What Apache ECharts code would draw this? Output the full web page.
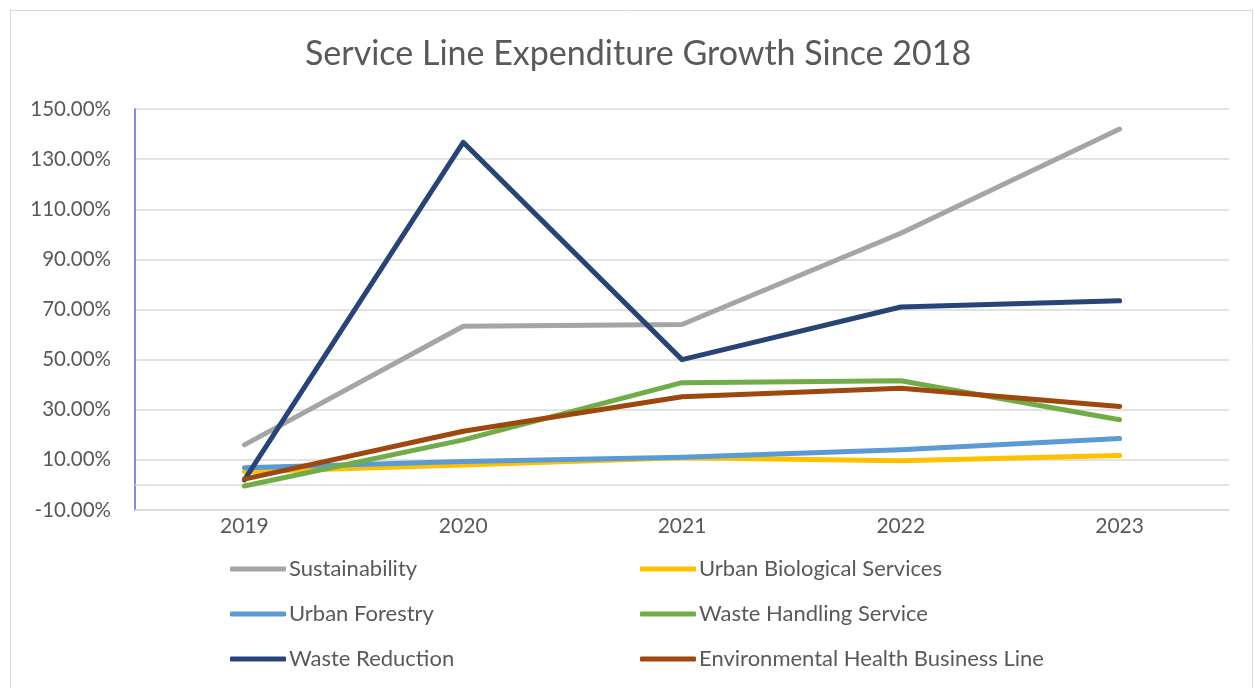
<!DOCTYPE html>
<html>
<head>
<meta charset="utf-8">
<script src="https://cdn.jsdelivr.net/npm/echarts@6/dist/echarts.min.js"></script>
<style>
html,body{margin:0;padding:0;background:#fff;}
#chart{width:1254px;height:688px;}
</style>
</head>
<body>
<div id="chart"></div>
<script>
const categories = ['2019', '2020', '2021', '2022', '2023'];
const sustainability = [16.0, 63.3, 64.0, 100.4, 142.0];
const urbanBiological = [5.3, 8.0, 10.8, 9.7, 11.7];
const urbanForestry = [6.9, 9.4, 11.0, 14.0, 18.5];
const wasteHandling = [-0.4, 18.0, 40.8, 41.6, 26.0];
const wasteReduction = [2.0, 136.7, 50.0, 71.0, 73.5];
const envHealth = [2.3, 21.4, 35.2, 38.6, 31.3];

const FONT = 'Lato';
const TXT = '#595959';

const seriesDefs = [
  {name: 'Sustainability', data: sustainability, color: '#A5A5A5'},
  {name: 'Urban Biological Services', data: urbanBiological, color: '#FFC000'},
  {name: 'Urban Forestry', data: urbanForestry, color: '#5B9BD5'},
  {name: 'Waste Handling Service', data: wasteHandling, color: '#70AD47'},
  {name: 'Waste Reduction', data: wasteReduction, color: '#264478'},
  {name: 'Environmental Health Business Line', data: envHealth, color: '#9E480E'}
];

const chart = echarts.init(document.getElementById('chart'), null, {renderer: 'canvas'});

const series = seriesDefs.map((s, i) => ({
  name: s.name,
  type: 'line',
  data: s.data,
  symbol: 'none',
  z: 3,
  lineStyle: {width: 5, color: s.color, cap: 'round', join: 'round'},
  itemStyle: {color: s.color},
  ...(i === 0 ? {
    markLine: {
      silent: true,
      symbol: 'none',
      label: {show: false},
      lineStyle: {color: '#D9D9D9', width: 1.5, type: 'solid'},
      data: [{yAxis: 0}],
      z: 1
    }
  } : {})
}));

const legendCommon = {
  orient: 'vertical',
  top: 558,
  padding: 0,
  itemWidth: 56,
  itemHeight: 5,
  itemGap: 23,
  icon: 'roundRect',
  textStyle: {fontFamily: FONT, fontSize: 22, color: TXT, lineHeight: 22, padding: [0, 0, 0, -2]},
  selectedMode: false
};

chart.setOption({
  backgroundColor: '#fff',
  animation: false,
  graphic: [{
    type: 'rect',
    shape: {x: 10.5, y: 10.5, width: 1242, height: 690},
    style: {fill: 'none', stroke: '#D9D9D9', lineWidth: 1},
    silent: true
  }],
  title: {
    text: 'Service Line Expenditure Growth Since 2018',
    left: 300,
    top: 32,
    textStyle: {fontFamily: FONT, fontSize: 34, fontWeight: 'normal', color: TXT}
  },
  legend: [
    Object.assign({}, legendCommon, {left: 230, data: ['Sustainability', 'Urban Forestry', 'Waste Reduction']}),
    Object.assign({}, legendCommon, {left: 640, data: ['Urban Biological Services', 'Waste Handling Service', 'Environmental Health Business Line']})
  ],
  grid: {left: 135, right: 25, top: 109, bottom: 178, containLabel: false},
  xAxis: {
    type: 'category',
    data: categories,
    boundaryGap: true,
    axisLine: {show: true, onZero: false, lineStyle: {color: '#D9D9D9', width: 1.5}},
    axisTick: {show: false},
    axisLabel: {fontFamily: FONT, fontSize: 21, color: TXT, margin: 6}
  },
  yAxis: {
    type: 'value',
    min: -10,
    max: 150,
    interval: 10,
    axisLine: {show: true, lineStyle: {color: '#4472C4', width: 1.5}},
    axisTick: {show: false},
    splitLine: {show: true, lineStyle: {color: ['#D9D9D9', 'transparent'], width: 1.5}},
    axisLabel: {
      fontFamily: FONT, fontSize: 20.5, color: TXT, margin: 24,
      formatter: function (v) {
        const r = Math.round(v);
        return ((r + 10) % 20 === 0) ? r.toFixed(2) + '%' : '';
      }
    }
  },
  series: series
});
</script>
</body>
</html>
